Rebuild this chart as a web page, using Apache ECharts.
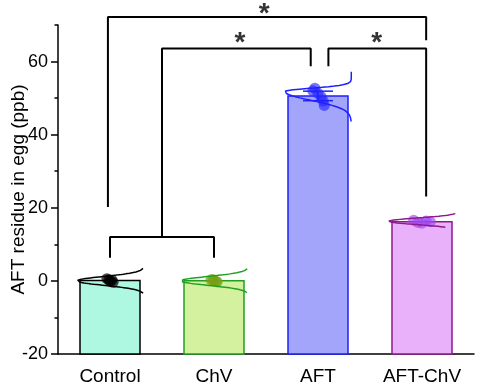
<!DOCTYPE html>
<html><head><meta charset="utf-8">
<script src="https://cdn.jsdelivr.net/npm/echarts@6/dist/echarts.min.js"></script>
<style>html,body{margin:0;padding:0;background:#fff}#c{width:477px;height:389px}</style>
</head><body><div id="c"></div>
<script>
// ---- data ----
const categories = ['Control', 'ChV', 'AFT', 'AFT-ChV'];
const barValues = [0.1, 0.05, 50.6, 16.2];
const errSD = [null, null, 1.3, null];
const ptsControl = [0.6, 0.2, -0.1, -0.4, 0.3];
const ptsChV = [0.3, -0.2, 0.1, -0.3, 0.4];
const ptsAFT = [52.7, 52.0, 51.3, 50.4, 49.2, 48.0];
const ptsAFTChV = [16.6, 16.0, 15.8, 16.4, 16.2];
const jitControl = [-0.03, 0.02, 0.0, 0.03, -0.01];
const jitChV = [-0.03, 0.02, 0.0, 0.03, -0.01];
const jitAFT = [-0.03, -0.05, 0.0, 0.03, 0.05, 0.06];
const jitAFTChV = [-0.08, -0.04, 0.0, 0.04, 0.08];
// distribution curve parameters (per group)
const curvePeak = [0, 0, 51.8, 16.3];
const curveSdUp = [1.2, 1.2, 0.9, 0.9];
const curveSdDown = [1.2, 1.2, 2.4, 0.9];
const curveHi = [3.4, 3.3, 57.2, 18.4];
const curveLo = [-3.5, -3.2, 43.6, 14.7];
// significance brackets [categoryPosition, value]
const bracketCtrlChV = [[0, 6.3], [0, 12], [1, 12], [1, 6.3]];
const bracketGroupAFT = [[0.5, 12], [0.5, 63.6], [1.93, 63.6], [1.93, 58.7]];
const bracketAFTpair = [[2.1, 58.7], [2.1, 63.6], [3.04, 63.6], [3.04, 23.1]];
const bracketTop = [[-0.02, 20.2], [-0.02, 72.2], [3.04, 72.2], [3.04, 65.8]];
const starMarks = [[1.483, 72.9], [1.25, 65.1], [2.564, 65.1]];
const yMajorTicks = [-20, 0, 20, 40, 60];

// ---- styles ----
const FONT = 'Liberation Sans, Arial, sans-serif';
const fills = ['#aef8e2', '#d3f19e', '#a2a5fa', '#e9b1f9'];
const edges = ['#000000', '#22a022', '#1f1fff', '#8e1a8e'];
const ptColors = ['rgba(0,0,0,0.85)', 'rgba(120,160,20,0.85)', 'rgba(40,40,255,0.8)', 'rgba(160,70,240,0.8)'];
const curveHalf = 0.32;
const BAR_W = 60;

const allPts = [ptsControl, ptsChV, ptsAFT, ptsAFTChV];
const allJit = [jitControl, jitChV, jitAFT, jitAFTChV];

function curveData(i) {
  const out = [];
  const f = v => {
    const sd = v >= curvePeak[i] ? curveSdUp[i] : curveSdDown[i];
    const z = (v - curvePeak[i]) / sd;
    return 1 - Math.exp(-z * z / 2);
  };
  const fmax = Math.max(f(curveLo[i]), f(curveHi[i]));
  const n = 80;
  for (let k = 0; k <= n; k++) {
    const v = curveHi[i] - (curveHi[i] - curveLo[i]) * k / n;
    out.push([i - curveHalf + 2 * curveHalf * f(v) / fmax, v]);
  }
  return out;
}

const series = [];
// bars rising from the bottom of the value axis
series.push({
  type: 'custom', xAxisIndex: 0, yAxisIndex: 0, z: 1,
  data: barValues.map((v, i) => [i, v]),
  renderItem: function (params, api) {
    const p = api.coord([api.value(0), api.value(1)]);
    const bottom = params.coordSys.y + params.coordSys.height;
    const i = params.dataIndex;
    return {
      type: 'rect',
      shape: { x: p[0] - BAR_W / 2, y: p[1], width: BAR_W, height: bottom - p[1] },
      style: { fill: fills[i], stroke: edges[i], lineWidth: 1.5 }
    };
  }
});
// error bars
series.push({
  type: 'custom', xAxisIndex: 1, yAxisIndex: 0, z: 4,
  data: barValues.map((v, i) => [i, v, errSD[i] == null ? 0 : errSD[i]]),
  renderItem: function (params, api) {
    const i = api.value(0), m = api.value(1), s = api.value(2);
    if (!s) return null;
    const top = api.coord([i, m + s]), bot = api.coord([i, m - s]);
    const c = edges[params.dataIndex];
    const st = { stroke: c, lineWidth: 1.5 };
    return { type: 'group', children: [
      { type: 'line', shape: { x1: top[0], y1: top[1], x2: bot[0], y2: bot[1] }, style: st },
      { type: 'line', shape: { x1: top[0] - 15, y1: top[1], x2: top[0] + 15, y2: top[1] }, style: st },
      { type: 'line', shape: { x1: bot[0] - 15, y1: bot[1], x2: bot[0] + 15, y2: bot[1] }, style: st }
    ] };
  }
});
// points
allPts.forEach((pts, i) => {
  series.push({
    type: 'scatter', xAxisIndex: 1, yAxisIndex: 0, z: 3, symbol: 'circle', symbolSize: 11,
    itemStyle: { color: ptColors[i] },
    data: pts.map((v, k) => [i + allJit[i][k], v])
  });
});
// distribution curves
categories.forEach((c, i) => {
  series.push({
    type: 'line', xAxisIndex: 1, yAxisIndex: 0, z: 5, symbol: 'none', clip: false,
    lineStyle: { color: edges[i], width: 1.5 }, data: curveData(i)
  });
});
// brackets
[bracketCtrlChV, bracketGroupAFT, bracketAFTpair, bracketTop].forEach(b => {
  series.push({
    type: 'line', xAxisIndex: 1, yAxisIndex: 0, z: 6, symbol: 'none', clip: false,
    lineStyle: { color: '#000', width: 2 }, data: b
  });
});
// stars
series.push({
  type: 'scatter', xAxisIndex: 1, yAxisIndex: 0, z: 7, clip: false, symbolSize: 1,
  itemStyle: { color: 'rgba(0,0,0,0)' },
  label: { show: true, position: 'inside', formatter: '*', fontSize: 28, fontWeight: 'bold', color: '#000', fontFamily: FONT },
  data: starMarks
});

const option = {
  animation: false,
  backgroundColor: '#fff',
  textStyle: { fontFamily: FONT },
  grid: { left: 58, right: 3, top: 25, bottom: 35, containLabel: false },
  xAxis: [{
    type: 'category', data: categories, boundaryGap: true,
    axisLine: { onZero: false, lineStyle: { color: '#000', width: 1.5 } },
    axisTick: { alignWithLabel: true, length: 5, lineStyle: { color: '#000', width: 1.5 } },
    axisLabel: { color: '#000', fontSize: 19, margin: 13, fontFamily: FONT },
    splitLine: { show: false }
  }, {
    type: 'value', min: -0.5, max: 3.5, show: false
  }],
  yAxis: [{
    type: 'value', min: -20, max: 70, interval: 10, position: 'left',
    name: 'AFT residue in egg (ppb)', nameLocation: 'middle', nameGap: 30,
    nameTextStyle: { color: '#000', fontSize: 19, fontFamily: FONT },
    axisLine: { show: true, onZero: false, lineStyle: { color: '#000', width: 1.5 } },
    axisTick: { show: true, length: 3.5, lineStyle: { color: '#000', width: 1.5 } },
    axisLabel: { show: false },
    splitLine: { show: false }
  }, {
    type: 'value', min: -20, max: 70, interval: 10, position: 'left', offset: 0,
    axisLine: { show: false, onZero: false },
    axisTick: { show: true, length: 7, customValues: yMajorTicks, lineStyle: { color: '#000', width: 1.5 } },
    axisLabel: { show: true, customValues: yMajorTicks, color: '#000', fontSize: 18, margin: 10, fontFamily: FONT },
    splitLine: { show: false }
  }],
  series: series
};
const chart = echarts.init(document.getElementById('c'), null, { renderer: 'canvas' });
chart.setOption(option);
</script></body></html>
